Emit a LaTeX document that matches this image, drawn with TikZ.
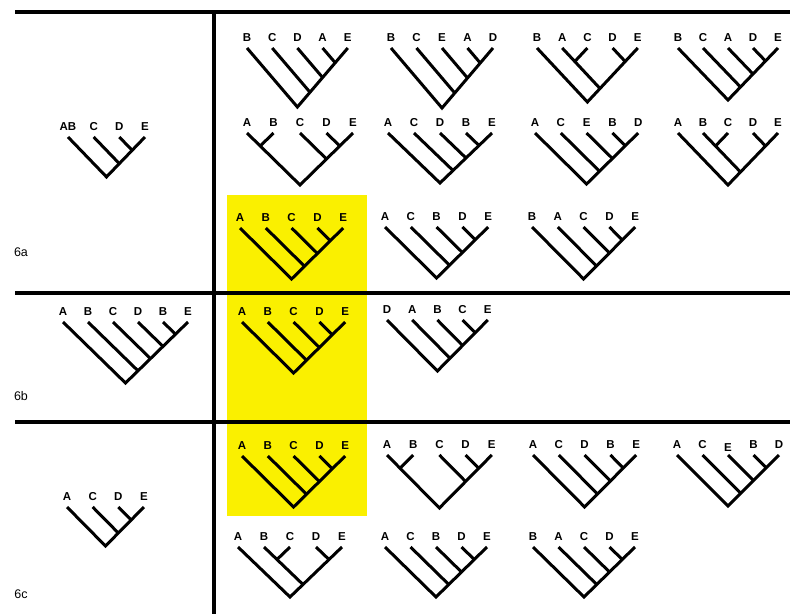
\documentclass[tikz,border=0pt]{standalone}
\usepackage{fontspec}
\setmainfont{Liberation Sans}
\definecolor{hl}{RGB}{250,240,0}
\tikzset{
  lab/.style={anchor=base, yshift=6.5pt, inner sep=0pt, font=\fontsize{11.5}{12}\selectfont\bfseries},
  br/.style={line width=3pt},
  frame/.style={line width=4.5pt},
  tag/.style={font=\fontsize{12.5}{13}\selectfont, inner sep=0pt},
}
% leaves and labels of a tree
\newcommand\leaves[2]{%
  \foreach \lbl [count=\i from 0] in {#2} {%
    \coordinate (#1p\i) at (2*\i,0);
    \node[lab] (#1l\i) at (2*\i,0) {\lbl};
  }}
% pectinate tree with #2 leaves
\newcommand\pect[2]{%
  \pgfmathtruncatemacro\nlast{#2-1}%
  \pgfmathtruncatemacro\nmid{#2-2}%
  \coordinate (#1r) at (\nlast,\nlast);
  \draw[br] (#1p0) -- (#1r) -- (#1p\nlast);
  \foreach \k in {1,...,\nmid} {%
    \pgfmathsetmacro\cx{\k+\nlast}%
    \pgfmathsetmacro\cy{\nlast-\k}%
    \coordinate (#1c\k) at (\cx,\cy);
    \draw[br] (#1p\k) -- (#1c\k);
  }}
% ((0,1),(2,(3,4)))
\newcommand\shapeone[1]{%
  \coordinate (#1r) at (4,4); \coordinate (#1x) at (1,1);
  \coordinate (#1y) at (6,2); \coordinate (#1z) at (7,1);
  \draw[br] (#1p0) -- (#1x) -- (#1r) -- (#1y) -- (#1z) -- (#1p4);
  \draw[br] (#1p1) -- (#1x);
  \draw[br] (#1p2) -- (#1y);
  \draw[br] (#1p3) -- (#1z);}
% (0,((1,2),(3,4)))
\newcommand\shapetwo[1]{%
  \coordinate (#1r) at (4,4); \coordinate (#1x) at (3,1);
  \coordinate (#1y) at (5,3); \coordinate (#1z) at (7,1);
  \draw[br] (#1p0) -- (#1r) -- (#1y) -- (#1z) -- (#1p4);
  \draw[br] (#1p1) -- (#1x) -- (#1y);
  \draw[br] (#1p2) -- (#1x);
  \draw[br] (#1p3) -- (#1z);}
\begin{document}
\begin{tikzpicture}[x=1pt,y=-1pt]
\useasboundingbox (0,0) rectangle (790,614);
\fill[white] (0,0) rectangle (790,614);
\fill[hl] (227,195) rectangle (367,516);

% frame
\draw[frame] (15,12) -- (790,12);
\draw[frame] (15,293) -- (790,293);
\draw[frame] (15,422) -- (790,422);
\draw[frame] (214,12) -- (214,614);

\node[tag] (t6a) at (21,252) {6a};
\node[tag] (t6b) at (21,396) {6b};
\node[tag] (t6c) at (21,594) {6c};

% ---- 6a, row 1
\begin{scope}[shift={(247pt,-48pt)},x=12.6pt,y=-14.75pt]
  \leaves{a1}{B,C,D,A,E}\pect{a1}{5}
\end{scope}
\begin{scope}[shift={(391pt,-48pt)},x=12.75pt,y=-15pt]
  \leaves{a2}{B,C,E,A,D}\pect{a2}{5}
\end{scope}
\begin{scope}[shift={(537pt,-48pt)},x=12.6pt,y=-13.5pt]
  \leaves{a3}{B,A,C,D,E}\shapetwo{a3}
\end{scope}
\begin{scope}[shift={(678pt,-48pt)},x=12.5pt,y=-13pt]
  \leaves{a4}{B,C,A,D,E}\pect{a4}{5}
\end{scope}
% ---- 6a, row 2
\begin{scope}[shift={(247pt,-133pt)},x=13.25pt,y=-13pt]
  \leaves{b1}{A,B,C,D,E}\shapeone{b1}
\end{scope}
\begin{scope}[shift={(388pt,-133pt)},x=13pt,y=-12.5pt]
  \leaves{b2}{A,C,D,B,E}\pect{b2}{5}
\end{scope}
\begin{scope}[shift={(535pt,-133pt)},x=12.9pt,y=-12.75pt]
  \leaves{b3}{A,C,E,B,D}\pect{b3}{5}
\end{scope}
\begin{scope}[shift={(678pt,-133pt)},x=12.5pt,y=-13pt]
  \leaves{b4}{A,B,C,D,E}\shapetwo{b4}
\end{scope}
% ---- 6a, row 3
\begin{scope}[shift={(240pt,-228pt)},x=12.9pt,y=-12.75pt]
  \leaves{c1}{A,B,C,D,E}\pect{c1}{5}
\end{scope}
\begin{scope}[shift={(385pt,-227pt)},x=12.9pt,y=-12.75pt]
  \leaves{c2}{A,C,B,D,E}\pect{c2}{5}
\end{scope}
\begin{scope}[shift={(532pt,-227pt)},x=12.9pt,y=-13pt]
  \leaves{c3}{B,A,C,D,E}\pect{c3}{5}
\end{scope}
% ---- left trees
\begin{scope}[shift={(68pt,-137pt)},x=12.83pt,y=-13.3pt]
  \leaves{la}{AB,C,D,E}\pect{la}{4}
\end{scope}
\begin{scope}[shift={(63pt,-322pt)},x=12.5pt,y=-12.2pt]
  \leaves{lb}{A,B,C,D,B,E}\pect{lb}{6}
\end{scope}
\begin{scope}[shift={(67pt,-507pt)},x=12.83pt,y=-13pt]
  \leaves{lc}{A,C,D,E}\pect{lc}{4}
\end{scope}
% ---- 6b
\begin{scope}[shift={(242pt,-322pt)},x=12.9pt,y=-12.75pt]
  \leaves{d1}{A,B,C,D,E}\pect{d1}{5}
\end{scope}
\begin{scope}[shift={(387pt,-320pt)},x=12.6pt,y=-12.75pt]
  \leaves{d2}{D,A,B,C,E}\pect{d2}{5}
\end{scope}
% ---- 6c, row 1
\begin{scope}[shift={(242pt,-456pt)},x=12.9pt,y=-12.75pt]
  \leaves{e1}{A,B,C,D,E}\pect{e1}{5}
\end{scope}
\begin{scope}[shift={(387pt,-455pt)},x=13.1pt,y=-13.25pt]
  \leaves{e2}{A,B,C,D,E}\shapeone{e2}
\end{scope}
\begin{scope}[shift={(533pt,-455pt)},x=12.9pt,y=-13pt]
  \leaves{e3}{A,C,D,B,E}\pect{e3}{5}
\end{scope}
\begin{scope}[shift={(677pt,-455pt)},x=12.75pt,y=-12.75pt]
  \leaves{e4}{A,C,\raisebox{-3pt}{E},B,D}\pect{e4}{5}
\end{scope}
% ---- 6c, row 2
\begin{scope}[shift={(238pt,-547pt)},x=13pt,y=-12.5pt]
  \leaves{f1}{A,B,C,D,E}\shapetwo{f1}
\end{scope}
\begin{scope}[shift={(385pt,-547pt)},x=12.75pt,y=-12.5pt]
  \leaves{f2}{A,C,B,D,E}\pect{f2}{5}
\end{scope}
\begin{scope}[shift={(533pt,-547pt)},x=12.75pt,y=-12.5pt]
  \leaves{f3}{B,A,C,D,E}\pect{f3}{5}
\end{scope}
\end{tikzpicture}
\end{document}
